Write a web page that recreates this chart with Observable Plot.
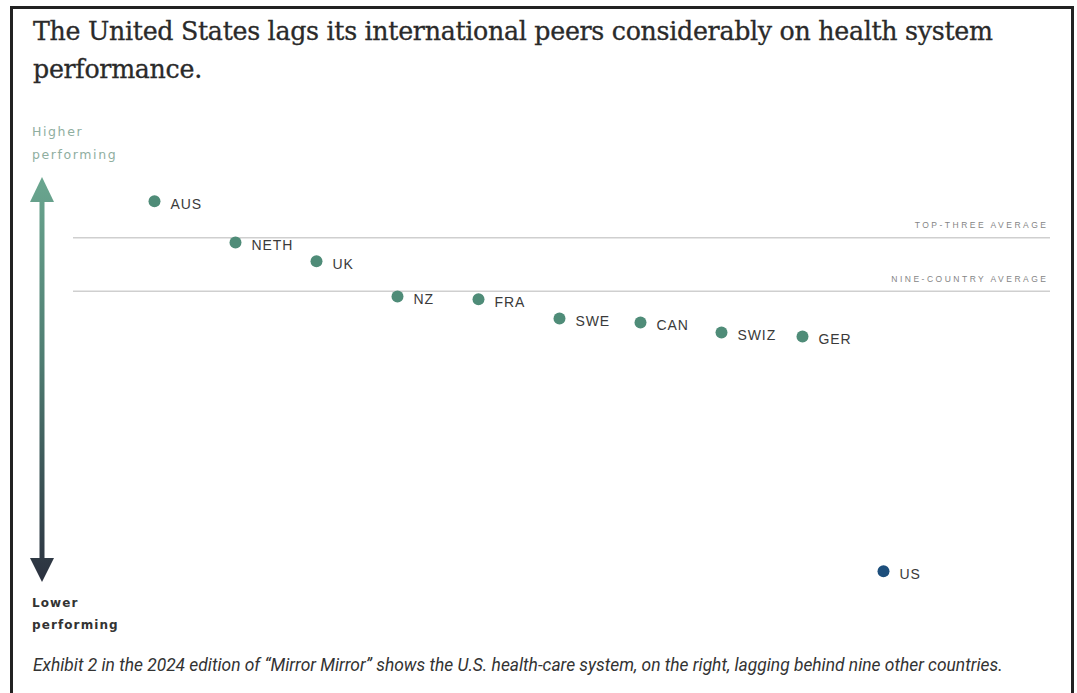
<!DOCTYPE html>
<html>
<head>
<meta charset="utf-8">
<script src="https://cdn.jsdelivr.net/npm/d3@7"></script>
<script src="https://cdn.jsdelivr.net/npm/@observablehq/plot@0.6"></script>
<style>
  html, body { margin: 0; padding: 0; background: #fff; width: 1077px; height: 693px; overflow: hidden; }
  .frame { position: absolute; left: 10px; top: 6px; width: 1064px; height: 700px; border: 3px solid #222; border-bottom: none; box-sizing: border-box; }
  .title { position: absolute; left: 33px; top: 13px; width: 1010px; font-family: "DejaVu Serif", serif; font-size: 25.3px; line-height: 38px; color: #2a2a2a; letter-spacing: -0.3px; -webkit-text-stroke: 0.3px #2a2a2a; }
  .hi { position: absolute; left: 32px; top: 120px; font-family: "DejaVu Sans", sans-serif; font-size: 12.5px; line-height: 23px; color: #8fae9f; letter-spacing: 1.6px; }
  .lo { position: absolute; left: 32px; top: 592px; font-family: "DejaVu Sans", sans-serif; font-size: 12px; font-weight: bold; line-height: 22px; color: #333; letter-spacing: 1.1px; }
  .caption { position: absolute; left: 33px; top: 655px; font-family: Roboto, sans-serif; font-style: italic; font-size: 17.4px; color: #333; white-space: nowrap; }
  #chart { position: absolute; left: 0; top: 110px; }
  .avglab text { letter-spacing: 2.5px; }
  .ctylab text { letter-spacing: 0.9px; }
</style>
</head>
<body>
<div class="frame"></div>
<div class="title">The United States lags its international peers considerably on health system performance.</div>
<div class="hi">Higher<br>performing</div>
<div class="lo">Lower<br>performing</div>
<div id="chart"></div>
<div class="caption">Exhibit 2 in the 2024 edition of “Mirror Mirror” shows the U.S. health-care system, on the right, lagging behind nine other countries.</div>
<script>
const countries = ["AUS", "NETH", "UK", "NZ", "FRA", "SWE", "CAN", "SWIZ", "GER", "US"];
const scores = [0.998, 0.895, 0.848, 0.760, 0.753, 0.705, 0.695, 0.670, 0.660, 0.073];
const groups = ["peer", "peer", "peer", "peer", "peer", "peer", "peer", "peer", "peer", "us"];
const avgLabels = ["TOP-THREE AVERAGE", "NINE-COUNTRY AVERAGE"];
const avgValues = [0.907, 0.773];

const data = countries.map((c, i) => ({country: c, score: scores[i], group: groups[i]}));
const avgs = avgLabels.map((l, i) => ({label: l, value: avgValues[i]}));

const plot = Plot.plot({
  width: 1077,
  height: 530,
  marginLeft: 73,
  marginRight: 27,
  marginTop: 0,
  marginBottom: 0,
  x: {type: "point", domain: countries, padding: 0, insetLeft: 80, insetRight: 166, axis: null},
  y: {domain: [0, 1], range: [490, 90], axis: null},
  color: {domain: ["peer", "us"], range: ["#4f8c78", "#1d4f7c"]},
  style: {fontFamily: "Liberation Sans, Arial, sans-serif"},
  marks: [
    Plot.ruleY(avgs, {y: "value", stroke: "#cfcfcf", strokeWidth: 1.6}),
    Plot.text(avgs, {y: "value", text: "label", frameAnchor: "right", textAnchor: "end", dx: -2, dy: -12, fill: "#858585", fontSize: 8.5, className: "avglab"}),
    Plot.dot(data, {x: "country", y: "score", r: 6, fill: "group", stroke: "none"}),
    Plot.text(data, {x: "country", y: "score", text: "country", textAnchor: "start", dx: 16, dy: 3, fill: "#3a3a3a", fontSize: 14, className: "ctylab"})
  ]
});
document.getElementById("chart").appendChild(plot);

// decorative gradient arrow on the left
const svg = d3.select(plot);
const defs = svg.append("defs");
const g = defs.append("linearGradient").attr("id", "arrowGrad")
  .attr("gradientUnits", "userSpaceOnUse").attr("x1", 0).attr("x2", 0).attr("y1", 67).attr("y2", 472);
g.append("stop").attr("offset", "0%").attr("stop-color", "#6aa68f");
g.append("stop").attr("offset", "45%").attr("stop-color", "#4f7d72");
g.append("stop").attr("offset", "100%").attr("stop-color", "#2b313f");
const ax = 42;
svg.append("rect").attr("x", ax - 2.5).attr("y", 88).attr("width", 5).attr("height", 364).attr("fill", "url(#arrowGrad)");
svg.append("path").attr("d", `M${ax},67 L${ax - 12},92 L${ax + 12},92 Z`).attr("fill", "url(#arrowGrad)");
svg.append("path").attr("d", `M${ax},472 L${ax - 12},448 L${ax + 12},448 Z`).attr("fill", "url(#arrowGrad)");
</script>
</body>
</html>
